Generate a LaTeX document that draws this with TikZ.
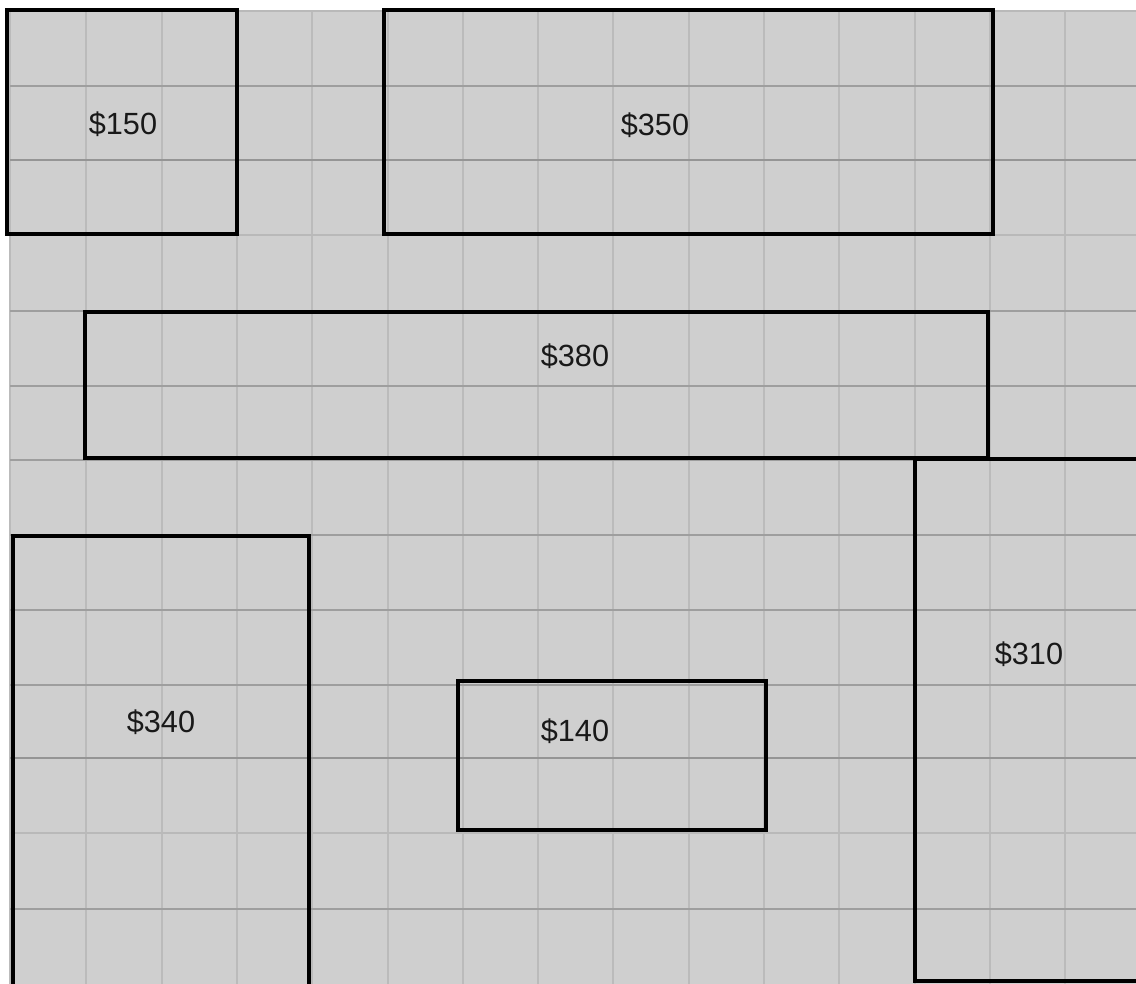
\documentclass[tikz,border=0pt]{standalone}
\usepackage{fontspec}
\setmainfont{Liberation Sans}
\definecolor{bg}{HTML}{CFCFCF}
\definecolor{vline}{HTML}{BBBBBB}
\definecolor{hline}{HTML}{9E9E9E}
\definecolor{hdark}{HTML}{959595}
\definecolor{hlight}{HTML}{B9B9B9}
\tikzset{
  vgrid/.style={draw=vline, line width=1.6pt},
  hgrid/.style={draw=hline, line width=1.6pt},
  hgriddark/.style={draw=hdark, line width=2.2pt},
  hgridlight/.style={draw=hlight, line width=2.2pt},
  box/.style={draw=black, line width=3.5pt, line join=miter},
  price/.style={font=\fontsize{23}{26}\selectfont, inner sep=0pt, text=black!90}
}
\begin{document}
\begin{tikzpicture}[x=0.75pt,y=-0.75pt]
\useasboundingbox (0,0) rectangle (1136,983);
\clip (0,0) rectangle (1136,983);
\fill[bg] (10,10) rectangle (1140,990);
% vertical grid lines
\foreach \x in {10,86,162,237,312,388,463,538,613,689,764,839,915,990,1065}
  \draw[vgrid] (\x,10) -- (\x,990);
% horizontal grid lines
\foreach \y in {86,311,386,460,535,610,685,909}
  \draw[hgrid] (10,\y) -- (1140,\y);
\foreach \y in {160,758}
  \draw[hgriddark] (10,\y) -- (1140,\y);
\foreach \y in {11,235,833}
  \draw[hgridlight] (10,\y) -- (1140,\y);
% boxes
\draw[box] (7,10) rectangle (237,234);
\draw[box] (384,10) rectangle (993,234);
\draw[box] (85,312) rectangle (988,458);
\draw[box] (13,995) -- (13,536) -- (309,536) -- (309,995);
\draw[box] (458,681) rectangle (766,830);
\draw[box] (1145,459) -- (915,459) -- (915,981) -- (1145,981);
% labels
\node[price] (l150) at (123,124) {\$150};
\node[price] (l350) at (655,125) {\$350};
\node[price] (l380) at (575,356) {\$380};
\node[price] (l340) at (161,722) {\$340};
\node[price] (l140) at (575,731) {\$140};
\node[price] (l310) at (1029,654) {\$310};
\end{tikzpicture}
\end{document}
